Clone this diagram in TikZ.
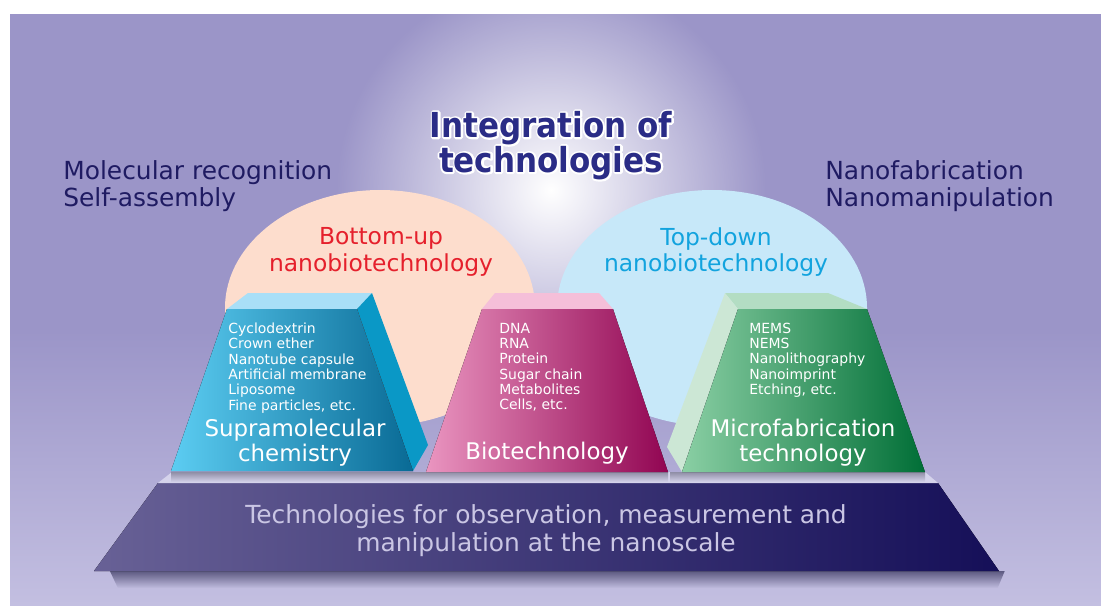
\documentclass[tikz,border=0pt]{standalone}
\usepackage{fontspec}
\setmainfont{DejaVu Sans}
\newfontfamily\condfont{DejaVu Sans Condensed}
\usepackage{tikz}
\usetikzlibrary{positioning,fadings,calc}

\definecolor{bgtop}{HTML}{9B95C8}
\definecolor{bgbot}{HTML}{C3BFE1}
\definecolor{navy}{HTML}{1F1B62}
\definecolor{titleblue}{HTML}{2A2C86}
\definecolor{peach}{HTML}{FDDDCD}
\definecolor{skyblue}{HTML}{C7E8F9}
\definecolor{bured}{HTML}{E5202C}
\definecolor{tdcyan}{HTML}{12A3DE}
\definecolor{supraL}{HTML}{5CCDF2}
\definecolor{supraM}{HTML}{078FBF}
\definecolor{supraR}{HTML}{096A95}
\definecolor{supraTop}{HTML}{A9DFF7}
\definecolor{supraSide}{HTML}{0A98C6}
\definecolor{bioL}{HTML}{EA95C0}
\definecolor{bioM}{HTML}{C0508A}
\definecolor{bioR}{HTML}{910552}
\definecolor{bioTop}{HTML}{F5BFD9}
\definecolor{microL}{HTML}{8ACFA4}
\definecolor{microM}{HTML}{2E9E66}
\definecolor{microR}{HTML}{006E36}
\definecolor{microTop}{HTML}{B3DDC3}
\definecolor{microSide}{HTML}{CCE7D5}
\definecolor{baseL}{HTML}{686196}
\definecolor{baseR}{HTML}{150F58}
\definecolor{baseTop}{HTML}{D5D3EB}
\definecolor{basetxt}{HTML}{CAC6E4}
\definecolor{shadowc}{HTML}{45426A}

\tikzfading[name=glowfade, inner color=transparent!0, outer color=transparent!100]
\tikzfading[name=shadowfade, top color=transparent!20, bottom color=transparent!100]

% white outline round the title letters
\newcommand{\outlined}[1]{\special{pdf:literal direct 2 Tr 2.2 w 1 j}#1\special{pdf:literal direct 0 Tr}}

\begin{document}
\begin{tikzpicture}[x=0.02cm, y=-0.02cm,
    sidetext/.style={inner sep=0pt, align=left, text=navy, font=\fontsize{14.17}{15.31}\selectfont},
    headtext/.style={inner sep=0pt, align=center, text=titleblue, font=\condfont\bfseries\fontsize{19.6}{19.84}\selectfont},
    nanotext/.style={inner sep=0pt, align=center, font=\fontsize{13.32}{15.31}\selectfont},
    listtext/.style={inner sep=0pt, align=left, anchor=north west, text=white, font=\fontsize{7.94}{8.73}\selectfont},
    facetext/.style={inner sep=0pt, align=center, text=white, font=\fontsize{13.05}{14.3}\selectfont},
    basetext/.style={inner sep=0pt, align=center, text=basetxt, font=\fontsize{14.17}{15.87}\selectfont},
    dropshadow/.style={top color=shadowc!60, bottom color=baseTop}
]
    \useasboundingbox (0,0) rectangle (1101,605);
    % background and glow
    \fill[white] (0,0) rectangle (1101,605);
    \begin{scope}
        \clip (10,14) rectangle (1101,605);
        \fill[bgtop] (10,14) rectangle (1101,331);
        \fill[top color=bgtop, bottom color=bgbot] (10,330) rectangle (1101,605);
        \fill[white, path fading=glowfade] (551,190) circle (215);
    \end{scope}

    \fill[peach] (380,308) ellipse (155 and 118);
    \fill[skyblue] (712,308) ellipse (155 and 118);

    \node[sidetext, anchor=west] (molec) at (63,186.5) {Molecular recognition\\Self-assembly};
    \node[sidetext, anchor=west] (nanofab) at (825,186.5) {Nanofabrication\\Nanomanipulation};
    \node[headtext, text=white] (halo) at (551,145.5) {\outlined{Integration of}\\\outlined{technologies}};
    \node[headtext] (integ) at (halo) {Integration of\\technologies};
    \node[nanotext, text=bured] (bottomup) at (381,252) {Bottom-up\\nanobiotechnology};
    \node[nanotext, text=tdcyan] (topdown) at (716,252) {Top-down\\nanobiotechnology};

    % base platform
    \fill[shadowc, path fading=shadowfade] (110,571) -- (1005,571) -- (998,588) -- (118,588) -- cycle;
    \fill[left color=baseL, right color=baseR] (158,483) -- (938,483) -- (999,571) -- (94,571) -- cycle;
    \fill[baseTop] (172,472) -- (925,472) -- (938,483) -- (158,483) -- cycle;
    \fill[dropshadow] (171,472) rectangle (430,482);
    \fill[dropshadow] (426,472) rectangle (668,482);
    \fill[dropshadow] (670,472) rectangle (925,482);

    % supramolecular chemistry
    \fill[supraTop] (227,309) -- (248,293) -- (372,293) -- (357,309) -- cycle;
    \fill[supraSide] (357,309) -- (372,293) -- (428,445) -- (413,471) -- cycle;
    \fill[left color=supraL, middle color=supraM, right color=supraR] (227,309) -- (357,309) -- (413,471) -- (171,471) -- cycle;

    % biotechnology
    \fill[bioTop] (495,293) -- (599,293) -- (613,309) -- (482,309) -- cycle;
    \fill[left color=bioL, middle color=bioM, right color=bioR] (482,309) -- (613,309) -- (668,472) -- (426,472) -- cycle;

    % microfabrication
    \fill[microTop] (725,293) -- (828,293) -- (867,309) -- (738,309) -- cycle;
    \fill[microSide] (725,293) -- (738,309) -- (682,472) -- (667,447) -- cycle;
    \fill[left color=microL, middle color=microM, right color=microR] (738,309) -- (867,309) -- (925,472) -- (682,472) -- cycle;

    \node[listtext] (supralist) at (228,322.5) {Cyclodextrin\\Crown ether\\Nanotube capsule\\Artificial membrane\\Liposome\\Fine particles, etc.};
    \node[facetext] (supra) at (295,442.4) {Supramolecular\\chemistry};
    \node[listtext] (biolist) at (499,322.5) {DNA\\RNA\\Protein\\Sugar chain\\Metabolites\\Cells, etc.};
    \node[facetext] (bio) at (547,453.5) {Biotechnology};
    \node[listtext] (microlist) at (749,322.5) {MEMS\\NEMS\\Nanolithography\\Nanoimprint\\Etching, etc.};
    \node[facetext] (micro) at (803,442.4) {Microfabrication\\technology};
    \node[basetext] (base) at (546,530.5) {Technologies for observation, measurement and\\manipulation at the nanoscale};
\end{tikzpicture}
\end{document}
